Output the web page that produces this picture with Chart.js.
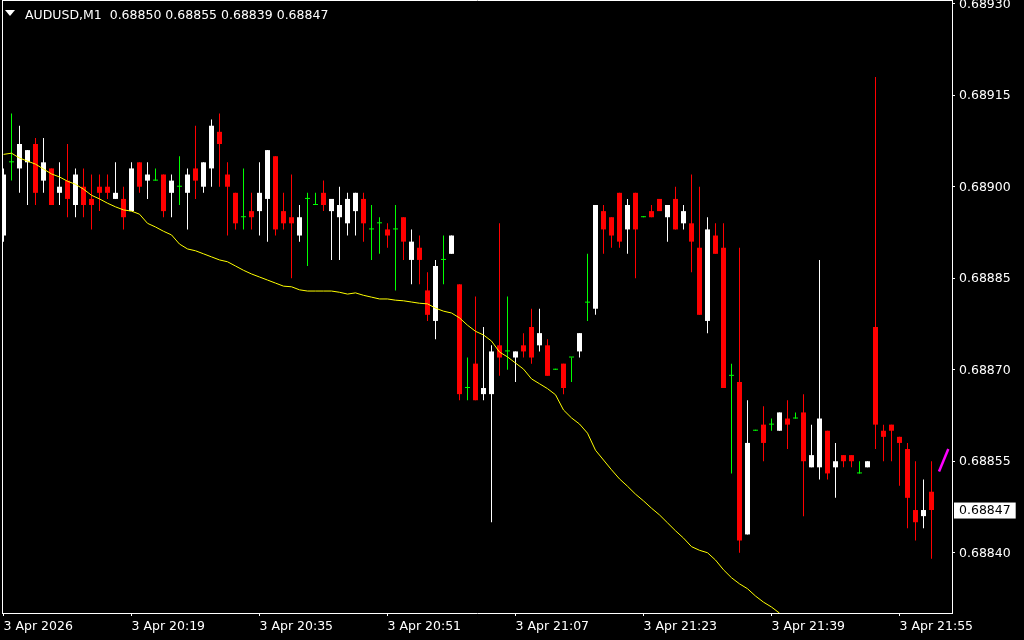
<!DOCTYPE html>
<html>
<head>
<meta charset="utf-8">
<script src="https://cdn.jsdelivr.net/npm/chart.js@4.4.1/dist/chart.umd.min.js"></script>
<style>
html,body{margin:0;padding:0;background:#000;overflow:hidden;}
#wrap{position:relative;width:1024px;height:640px;background:#000;}
#c{position:absolute;left:0;top:0;}
#tri{position:absolute;left:5px;top:10px;width:0;height:0;border-left:5px solid transparent;border-right:5px solid transparent;border-top:6px solid #fff;}
#hdr{position:absolute;left:25px;top:6.5px;font-family:"DejaVu Sans";font-size:12.5px;line-height:15px;color:#fff;white-space:pre;}
</style>
</head>
<body>
<div id="wrap">
<canvas id="c" width="1024" height="640"></canvas>
<div id="tri"></div>
<div id="hdr"></div>
</div>
<script>
// ---- data ----
const symbol = 'AUDUSD';
const timeframe = 'M1';

const openP = [
0.68892,0.68904,0.68903,0.68904,0.68907,0.68901,0.68903,0.68899,0.68901,0.68897,
0.68900,0.68898,0.68900,0.68900,0.68898,0.68898,0.68896,0.68904,0.68901,0.68901,
0.68902,0.68899,0.68900,0.68899,0.68903,0.68900,0.68903,0.68909,0.68902,0.68899,
0.68895,0.68896,0.68896,0.68898,0.68905,0.68896,0.68895,0.68892,0.68898,0.68897,
0.68899,0.68896,0.68895,0.68894,0.68896,0.68898,0.68893,0.68894,0.68893,0.68893,
0.68895,0.68888,0.68890,0.68883,0.68878,0.68888,0.68889,0.68884,0.68867,0.68871,
0.68866,0.68866,0.68874,0.68873,0.68872,0.68874,0.68877,0.68874,0.68874,0.68870,
0.68871,0.68872,0.68873,0.68881,0.68880,0.68896,0.68895,0.68899,0.68893,0.68899,
0.68895,0.68896,0.68898,0.68895,0.68898,0.68894,0.68894,0.68890,0.68878,0.68892,
0.68890,0.68869,0.68868,0.68843,0.68860,0.68861,0.68861,0.68860,0.68862,0.68862,
0.68863,0.68854,0.68854,0.68860,0.68854,0.68856,0.68856,0.68853,0.68854,0.68877,
0.68860,0.68861,0.68859,0.68857,0.68847,0.68846,0.68850];

const highP = [
0.68903,0.68912,0.68910,0.68906,0.68908,0.68908,0.68903,0.68904,0.68907,0.68903,
0.68903,0.68902,0.68902,0.68902,0.68904,0.68900,0.68904,0.68904,0.68904,0.68903,
0.68902,0.68902,0.68905,0.68903,0.68910,0.68904,0.68911,0.68912,0.68904,0.68899,
0.68903,0.68899,0.68904,0.68906,0.68905,0.68899,0.68902,0.68897,0.68899,0.68899,
0.68901,0.68898,0.68900,0.68899,0.68899,0.68899,0.68897,0.68895,0.68894,0.68897,
0.68895,0.68893,0.68892,0.68886,0.68888,0.68892,0.68892,0.68884,0.68872,0.68882,
0.68877,0.68874,0.68894,0.68882,0.68873,0.68876,0.68880,0.68880,0.68875,0.68870,
0.68871,0.68872,0.68876,0.68889,0.68897,0.68897,0.68895,0.68899,0.68898,0.68899,
0.68895,0.68897,0.68898,0.68897,0.68900,0.68897,0.68902,0.68900,0.68895,0.68894,
0.68894,0.68871,0.68890,0.68865,0.68860,0.68864,0.68862,0.68863,0.68865,0.68863,
0.68866,0.68861,0.68888,0.68860,0.68858,0.68856,0.68856,0.68855,0.68855,0.68918,
0.68861,0.68861,0.68859,0.68858,0.68855,0.68852,0.68855];

const lowP = [
0.68891,0.68901,0.68899,0.68897,0.68897,0.68899,0.68897,0.68897,0.68895,0.68895,
0.68895,0.68893,0.68896,0.68898,0.68898,0.68893,0.68896,0.68899,0.68898,0.68901,
0.68895,0.68895,0.68897,0.68893,0.68898,0.68899,0.68900,0.68900,0.68892,0.68893,
0.68893,0.68893,0.68892,0.68891,0.68892,0.68893,0.68885,0.68891,0.68887,0.68897,
0.68896,0.68888,0.68888,0.68892,0.68892,0.68891,0.68888,0.68889,0.68890,0.68883,
0.68888,0.68884,0.68884,0.68878,0.68875,0.68884,0.68889,0.68865,0.68865,0.68865,
0.68865,0.68845,0.68869,0.68870,0.68868,0.68872,0.68871,0.68873,0.68869,0.68870,
0.68866,0.68868,0.68872,0.68878,0.68879,0.68889,0.68890,0.68890,0.68889,0.68885,
0.68895,0.68895,0.68896,0.68891,0.68893,0.68893,0.68886,0.68879,0.68876,0.68889,
0.68867,0.68853,0.68840,0.68843,0.68860,0.68855,0.68860,0.68860,0.68857,0.68862,
0.68846,0.68854,0.68852,0.68852,0.68849,0.68854,0.68854,0.68853,0.68854,0.68857,
0.68855,0.68855,0.68851,0.68844,0.68842,0.68844,0.68839];

const closeP = [
0.68902,0.68904,0.68907,0.68906,0.68899,0.68904,0.68897,0.68900,0.68898,0.68902,
0.68897,0.68897,0.68899,0.68899,0.68899,0.68895,0.68903,0.68900,0.68902,0.68901,
0.68896,0.68901,0.68900,0.68902,0.68901,0.68904,0.68910,0.68907,0.68900,0.68894,
0.68895,0.68895,0.68899,0.68906,0.68893,0.68894,0.68894,0.68895,0.68898,0.68897,
0.68897,0.68898,0.68897,0.68898,0.68899,0.68894,0.68893,0.68894,0.68892,0.68893,
0.68891,0.68891,0.68888,0.68879,0.68887,0.68888,0.68892,0.68866,0.68867,0.68865,
0.68867,0.68873,0.68872,0.68873,0.68873,0.68873,0.68872,0.68876,0.68869,0.68870,
0.68867,0.68872,0.68876,0.68881,0.68897,0.68893,0.68892,0.68891,0.68897,0.68893,
0.68895,0.68895,0.68896,0.68897,0.68893,0.68896,0.68891,0.68879,0.68893,0.68889,
0.68867,0.68869,0.68842,0.68858,0.68860,0.68858,0.68861,0.68863,0.68861,0.68862,
0.68855,0.68856,0.68862,0.68853,0.68855,0.68855,0.68855,0.68853,0.68855,0.68861,
0.68859,0.68860,0.68858,0.68849,0.68845,0.68847,0.68847];

// moving average line (yellow), one value per bar from bar 0
const maValues = [
0.689053,0.689055,0.689047,0.689042,0.689037,0.689029,0.689021,0.689016,0.689009,0.689004,
0.688996,0.688986,0.688980,0.688973,0.688967,0.688962,0.688960,0.688955,0.688940,0.688934,
0.688927,0.688921,0.688906,0.688898,0.688895,0.688890,0.688885,0.688880,0.688877,0.688870,
0.688863,0.688857,0.688852,0.688847,0.688842,0.688837,0.688836,0.688831,0.688829,0.688829,
0.688829,0.688829,0.688827,0.688824,0.688826,0.688822,0.688819,0.688816,0.688816,0.688814,
0.688813,0.688811,0.688809,0.688808,0.688801,0.688796,0.688793,0.688785,0.688773,0.688763,
0.688757,0.688747,0.688729,0.688721,0.688711,0.688701,0.688685,0.688677,0.688669,0.688659,
0.688634,0.688621,0.688611,0.688596,0.688568,0.688552,0.688536,0.688521,0.688509,0.688496,
0.688485,0.688473,0.688462,0.688449,0.688436,0.688424,0.688410,0.688404,0.688400,0.688388,
0.688372,0.688359,0.688349,0.688341,0.688329,0.688319,0.688311,0.688301];

// short magenta indicator stroke at the right edge (bar index, price)
const markX = [116.94, 118.1];
const markY = [0.688533, 0.688570];

// axis ticks
const priceTicks = [0.68840, 0.68855, 0.68870, 0.68885, 0.68900, 0.68915, 0.68930];
const timeTickIdx = [0, 16, 32, 48, 64, 80, 96, 112];
const timeTickLabels = ['3 Apr 2026', '3 Apr 20:19', '3 Apr 20:35', '3 Apr 20:51',
                        '3 Apr 21:07', '3 Apr 21:23', '3 Apr 21:39', '3 Apr 21:55'];

// ---- build ----
const n = openP.length;
const lastClose = closeP[n - 1];
document.getElementById('hdr').textContent =
  symbol + ',' + timeframe + '  ' + [openP[n-1], highP[n-1], lowP[n-1], closeP[n-1]].map(v => v.toFixed(5)).join(' ');

const UP = '#ffffff', DOWN = '#ff0000', DOJI = '#00ff00';
const dirColor = openP.map((o, i) => closeP[i] > o ? UP : (closeP[i] < o ? DOWN : DOJI));

const bodyData = openP.map((o, i) => ({x: i, y: [o, closeP[i]]}));
const wickData = lowP.map((l, i) => ({x: i, y: [l, highP[i]]}));
const maData = maValues.map((v, i) => ({x: i, y: v}));
const markData = markX.map((x, i) => ({x: x, y: markY[i]}));

const FONT = {family: 'DejaVu Sans', size: 12.5};
const isLast = v => Math.abs(v - lastClose) < 1e-9;

new Chart(document.getElementById('c'), {
  type: 'bar',
  data: {
    datasets: [
      {type: 'line', data: markData, borderColor: '#ff00ff', borderWidth: 2.5, pointRadius: 0, tension: 0, xAxisID: 'x', yAxisID: 'y'},
      {type: 'line', data: maData, borderColor: '#ffff00', borderWidth: 1, pointRadius: 0, tension: 0, xAxisID: 'x', yAxisID: 'y'},
      {type: 'bar', data: bodyData, backgroundColor: dirColor, borderWidth: 0, barThickness: 5, minBarLength: 1, grouped: false, inflateAmount: 0, xAxisID: 'x', yAxisID: 'y'},
      {type: 'bar', data: wickData, backgroundColor: dirColor, borderWidth: 0, barThickness: 1, minBarLength: 1, grouped: false, inflateAmount: 0, xAxisID: 'x', yAxisID: 'y'}
    ]
  },
  options: {
    responsive: false,
    devicePixelRatio: 1,
    animation: false,
    events: [],
    layout: {autoPadding: false, padding: {left: 2, top: 0, right: 0, bottom: 0}},
    plugins: {legend: {display: false}, tooltip: {enabled: false}, title: {display: false}},
    scales: {
      x: {
        type: 'linear', position: 'bottom', min: -0.1875, max: 118.5625, bounds: 'data', offset: false,
        afterBuildTicks: s => { s.ticks = timeTickIdx.map(v => ({value: v})); },
        afterFit: s => { s.height = 27; s.paddingLeft = 0; s.paddingRight = 0; },
        grid: {display: true, offset: false, drawOnChartArea: false, drawTicks: true, tickLength: 3, color: '#ffffff', lineWidth: 1},
        border: {display: true, color: '#ffffff', width: 1},
        ticks: {
          align: 'start', maxRotation: 0, minRotation: 0, autoSkip: false, padding: 3,
          font: FONT, color: '#ffffff',
          callback: v => timeTickLabels[timeTickIdx.indexOf(v)]
        }
      },
      y: {
        type: 'linear', position: 'right', min: 0.6883012, max: 0.6893061, bounds: 'data',
        afterBuildTicks: s => { s.ticks = priceTicks.concat([lastClose]).sort((a, b) => a - b).map(v => ({value: v})); },
        afterFit: s => { s.width = 72; s.paddingTop = 0; s.paddingBottom = 0; },
        grid: {display: true, drawOnChartArea: false, drawTicks: true, tickLength: 3, lineWidth: 1,
               color: c => (c.tick && isLast(c.tick.value)) ? 'rgba(0,0,0,0)' : '#ffffff'},
        border: {display: true, color: '#ffffff', width: 1},
        ticks: {
          autoSkip: false, padding: 4, font: FONT, labelOffset: 1,
          color: c => isLast(c.tick.value) ? '#000000' : '#ffffff',
          showLabelBackdrop: c => isLast(c.tick.value),
          backdropColor: '#ffffff',
          backdropPadding: {left: 5, right: 5, top: 1, bottom: 0},
          callback: v => Number(v).toFixed(5)
        }
      },
      xTop: {
        type: 'linear', position: 'top', display: true, min: 0, max: 1, offset: false,
        afterFit: s => { s.height = 0; s.paddingLeft = 0; s.paddingRight = 0; },
        ticks: {display: false},
        grid: {display: false, drawTicks: false},
        border: {display: true, color: '#ffffff', width: 1}
      },
      yLeft: {
        type: 'linear', position: 'left', display: true, min: 0, max: 1,
        afterFit: s => { s.width = 0; s.paddingTop = 0; s.paddingBottom = 0; },
        ticks: {display: false},
        grid: {display: false, drawTicks: false},
        border: {display: true, color: '#ffffff', width: 1}
      }
    }
  }
});
</script>
</body>
</html>
